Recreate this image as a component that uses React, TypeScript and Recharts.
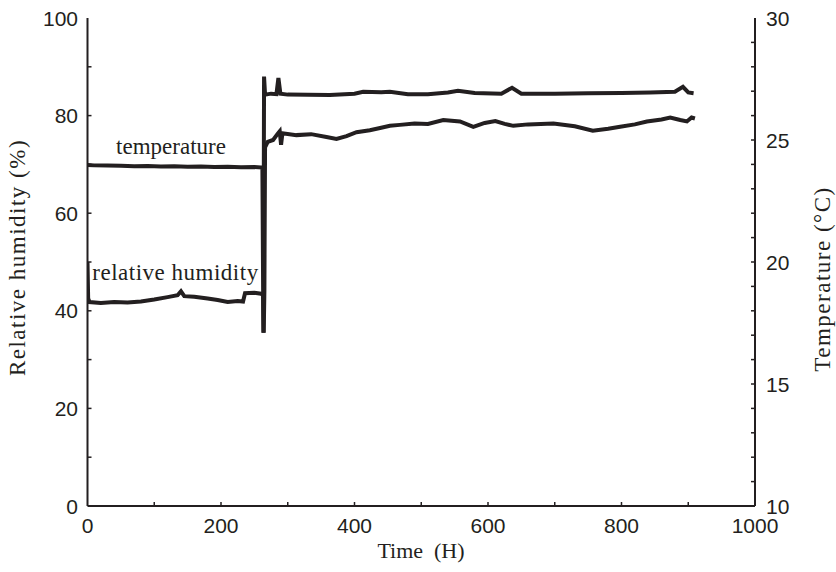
import React from "react";
import { LineChart, Line, XAxis, YAxis } from "recharts";

// temperature trace (°C, right axis)
const tempTime = [0, 10, 30, 50, 70, 90, 110, 130, 150, 170, 190, 210, 230, 250, 262, 263.5, 264.5, 266, 275, 283, 286, 289, 300, 330, 363, 400, 413, 440, 453, 480, 510, 540, 555, 580, 620, 636, 650, 700, 750, 800, 843, 880, 892, 900, 908];
const tempC = [23.98, 23.96, 23.95, 23.94, 23.92, 23.93, 23.91, 23.92, 23.9, 23.91, 23.89, 23.9, 23.88, 23.89, 23.87, 17.1, 27.6, 26.86, 26.9, 26.88, 27.54, 26.9, 26.86, 26.85, 26.84, 26.9, 26.98, 26.96, 26.98, 26.88, 26.88, 26.95, 27.02, 26.93, 26.9, 27.14, 26.9, 26.9, 26.92, 26.93, 26.95, 26.98, 27.18, 26.95, 26.92];

// relative humidity trace (%, left axis)
const humTime = [0, 1, 3, 20, 40, 60, 80, 100, 120, 135, 140, 145, 160, 180, 195, 210, 225, 233, 236, 250, 260, 263, 264, 265, 266, 270, 278, 285, 288, 290, 292, 313, 335, 358, 373, 388, 403, 423, 440, 453, 468, 490, 510, 533, 558, 578, 595, 611, 625, 638, 660, 698, 730, 757, 780, 798, 820, 838, 860, 873, 888, 898, 905, 910];
const humPct = [50, 42.5, 41.8, 41.6, 41.8, 41.7, 41.9, 42.3, 42.8, 43.2, 44.0, 43.0, 42.9, 42.5, 42.2, 41.8, 42.0, 41.9, 43.6, 43.7, 43.5, 43.2, 35.5, 44, 73.5, 74.6, 75.0, 76.3, 76.8, 74.0, 76.4, 76.0, 76.2, 75.6, 75.2, 75.8, 76.6, 77.0, 77.5, 77.9, 78.1, 78.4, 78.3, 79.1, 78.8, 77.7, 78.5, 78.9, 78.3, 77.9, 78.2, 78.4, 77.8, 76.9, 77.3, 77.7, 78.2, 78.8, 79.2, 79.6, 79.1, 78.8, 79.6, 79.4];

const xTicks = [0, 100, 200, 300, 400, 500, 600, 700, 800, 900, 1000];
const rhTicks = [0, 10, 20, 30, 40, 50, 60, 70, 80, 90, 100];
const tcTicks = [10, 11, 12, 13, 14, 15, 16, 17, 18, 19, 20, 21, 22, 23, 24, 25, 26, 27, 28, 29, 30];

const tempData = tempTime.map((t, i) => ({ t, v: tempC[i] }));
const humData = humTime.map((t, i) => ({ t, v: humPct[i] }));

const INK = "#231f20";
const SANS = '"Liberation Sans", Arial, sans-serif';
const SERIF = '"Liberation Serif", "Times New Roman", serif';
const TICK = 4;

function BottomTick(props: any) {
  const { x, y, payload } = props;
  const v = payload.value;
  return (
    <g>
      {v > 0 && v < 1000 && <line x1={x} y1={y} x2={x} y2={y - TICK} stroke={INK} strokeWidth={1.5} />}
      {v % 200 === 0 && (
        <text x={x} y={y + 27} textAnchor="middle" fontFamily={SANS} fontSize={21} fill={INK}>
          {v}
        </text>
      )}
    </g>
  );
}

function TopTick(props: any) {
  const { x, y, payload } = props;
  const v = payload.value;
  if (v <= 0 || v >= 1000) return <g />;
  return <line x1={x} y1={y} x2={x} y2={y + TICK} stroke={INK} strokeWidth={1.5} />;
}

function LeftTick(props: any) {
  const { x, y, payload } = props;
  const v = payload.value;
  return (
    <g>
      {v > 0 && v < 100 && <line x1={x} y1={y} x2={x + TICK} y2={y} stroke={INK} strokeWidth={1.5} />}
      {v % 20 === 0 && (
        <text x={x - 9.5} y={y + 7.5} textAnchor="end" fontFamily={SANS} fontSize={21} fill={INK}>
          {v}
        </text>
      )}
    </g>
  );
}

function RightTick(props: any) {
  const { x, y, payload } = props;
  const v = payload.value;
  return (
    <g>
      {v > 10 && v < 30 && <line x1={x} y1={y} x2={x - TICK} y2={y} stroke={INK} strokeWidth={1.5} />}
      {v % 5 === 0 && (
        <text x={x + 11} y={y + 7.5} textAnchor="start" fontFamily={SANS} fontSize={21} fill={INK}>
          {v}
        </text>
      )}
    </g>
  );
}

export default function App() {
  const axisLine = { stroke: INK, strokeWidth: 2 };
  return (
    <div style={{ position: "absolute", left: 0, top: 0, width: 836, height: 572, background: "#fff" }}>
      <LineChart width={836} height={572} margin={{ top: 18, right: 21, left: 27.5, bottom: 36 }}>
        <XAxis
          xAxisId="b"
          dataKey="t"
          type="number"
          domain={[0, 1000]}
          ticks={xTicks}
          interval={0}
          tick={(p: any) => <BottomTick {...p} />}
          tickLine={false}
          tickSize={0}
          tickMargin={0}
          height={30}
          axisLine={axisLine}
          allowDataOverflow
        />
        <XAxis
          xAxisId="top"
          orientation="top"
          dataKey="t"
          type="number"
          domain={[0, 1000]}
          ticks={xTicks}
          interval={0}
          tick={(p: any) => <TopTick {...p} />}
          tickLine={false}
          tickSize={0}
          tickMargin={0}
          height={0}
          axisLine={axisLine}
          allowDataOverflow
        />
        <YAxis
          yAxisId="rh"
          type="number"
          domain={[0, 100]}
          ticks={rhTicks}
          interval={0}
          tick={(p: any) => <LeftTick {...p} />}
          tickLine={false}
          tickSize={0}
          tickMargin={0}
          width={60}
          axisLine={axisLine}
          allowDataOverflow
        />
        <YAxis
          yAxisId="tc"
          orientation="right"
          type="number"
          domain={[10, 30]}
          ticks={tcTicks}
          interval={0}
          tick={(p: any) => <RightTick {...p} />}
          tickLine={false}
          tickSize={0}
          tickMargin={0}
          width={60}
          axisLine={axisLine}
          allowDataOverflow
        />
        <Line
          xAxisId="b"
          yAxisId="tc"
          data={tempData}
          dataKey="v"
          type="linear"
          stroke={INK}
          strokeWidth={4}
          dot={false}
          isAnimationActive={false}
        />
        <Line
          xAxisId="b"
          yAxisId="rh"
          data={humData}
          dataKey="v"
          type="linear"
          stroke={INK}
          strokeWidth={4}
          dot={false}
          isAnimationActive={false}
        />
      </LineChart>
      <svg width={836} height={572} style={{ position: "absolute", left: 0, top: 0, pointerEvents: "none" }}>
        <text x={171} y={154} textAnchor="middle" fontFamily={SERIF} fontSize={23} fill={INK}>
          temperature
        </text>
        <text x={175.5} y={280} textAnchor="middle" fontFamily={SERIF} fontSize={23} letterSpacing={0.5} fill={INK}>
          relative humidity
        </text>
        <text transform="translate(25,257.5) rotate(-90)" textAnchor="middle" fontFamily={SERIF} fontSize={23} letterSpacing={1.5} fill={INK}>
          Relative humidity (%)
        </text>
        <text transform="translate(830,279) rotate(-90)" textAnchor="middle" fontFamily={SERIF} fontSize={23} letterSpacing={1.5} fill={INK}>
          Temperature (°C)
        </text>
        <text x={421} y={558} textAnchor="middle" fontFamily={SERIF} fontSize={22} fill={INK} style={{ whiteSpace: "pre" }}>
          {"Time  (H)"}
        </text>
      </svg>
    </div>
  );
}
